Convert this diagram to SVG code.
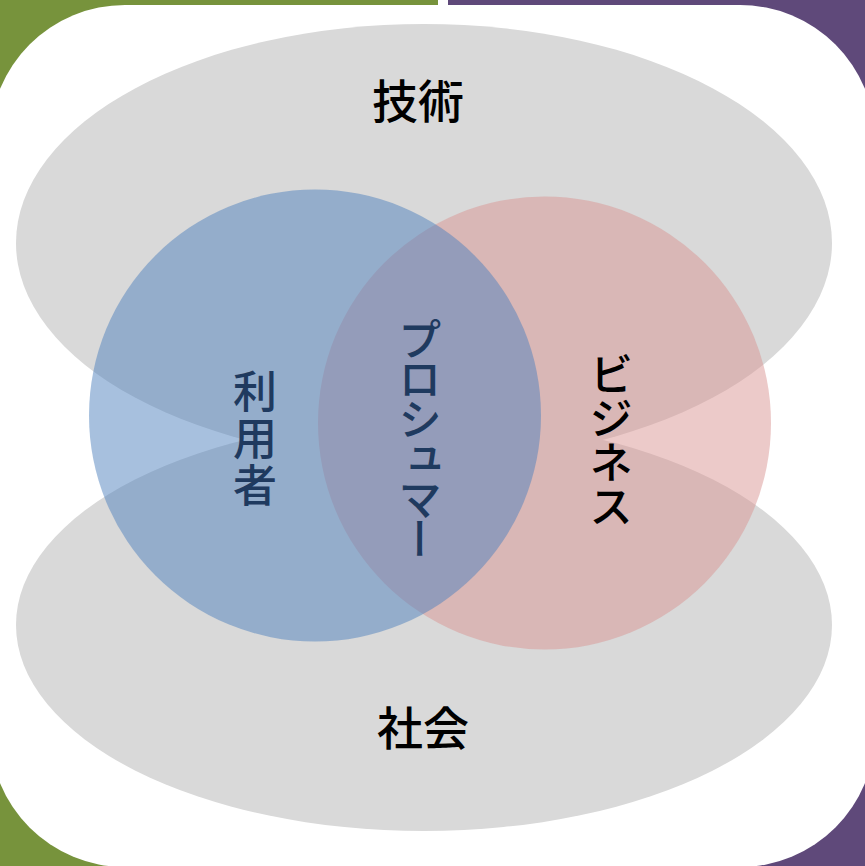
<svg xmlns="http://www.w3.org/2000/svg" width="865" height="866" viewBox="0 0 865 866">
  <style>
    .lbl { font-family: "Noto Sans CJK JP", "Noto Sans", sans-serif; font-size: 46px; font-weight: 500; }
    .vert { font-family: "Noto Sans CJK JP", "Noto Sans", sans-serif; font-size: 44px; font-weight: 500; writing-mode: vertical-rl; }
    .ell { fill: #D9D9D9; }
  </style>
  <g id="background">
    <rect x="0" y="0" width="865" height="866" fill="#FFFFFF"/>
    <rect x="0" y="0" width="438" height="866" fill="#77933C"/>
    <rect x="448" y="0" width="417" height="866" fill="#5F497A"/>
    <rect x="-10" y="5" width="885" height="862" rx="135" ry="135" fill="#FFFFFF"/>
  </g>
  <g id="node-tech">
    <ellipse class="ell" cx="424" cy="243" rx="408" ry="219"/>
  </g>
  <g id="node-society">
    <ellipse class="ell" cx="424" cy="625" rx="408" ry="206"/>
  </g>
  <g id="node-business">
    <circle cx="544.5" cy="423" r="226.5" fill="#D99694" fill-opacity="0.5"/>
  </g>
  <g id="node-user">
    <circle cx="315" cy="415.5" r="226" fill="#4F81BD" fill-opacity="0.5"/>
  </g>
  <g id="labels">
    <text class="lbl" x="418" y="118" text-anchor="middle" fill="#000000">技術</text>
    <text class="lbl" x="423" y="745" text-anchor="middle" fill="#000000">社会</text>
    <text class="vert" x="255" y="369" fill="#1F3A5F" style="letter-spacing:3px">利用者</text>
    <text class="vert" x="420" y="317" fill="#1F3A5F" style="letter-spacing:-4px">プロシュマー</text>
    <text class="vert" x="611" y="352" fill="#000000">ビジネス</text>
  </g>
</svg>
